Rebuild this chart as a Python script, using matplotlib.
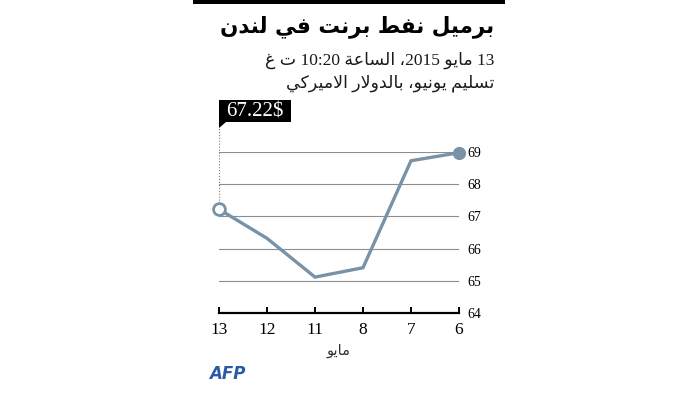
import re
import matplotlib
matplotlib.use('Agg')
import matplotlib.pyplot as plt
from matplotlib.patches import Rectangle, Polygon

# Data
days = ['13', '12', '11', '8', '7', '6']
prices = [67.22, 66.32, 65.12, 65.41, 68.72, 68.97]
y_ticks = [64, 65, 66, 67, 68, 69]

title = 'برميل نفط برنت في لندن'
subtitle1 = '13 مايو 2015، الساعة 10:20 ت غ'
subtitle2 = 'تسليم يونيو، بالدولار الاميركي'
month = 'مايو'

W, H = 700, 393
line_color = '#7893a8'

# Minimal Arabic shaping (matplotlib has no complex text layout)
# isolated, final, initial, medial
FORMS = {
    'ا': (0xFE8D, 0xFE8E, None, None),
    'ب': (0xFE8F, 0xFE90, 0xFE91, 0xFE92),
    'ة': (0xFE93, 0xFE94, None, None),
    'ت': (0xFE95, 0xFE96, 0xFE97, 0xFE98),
    'د': (0xFEA9, 0xFEAA, None, None),
    'ر': (0xFEAD, 0xFEAE, None, None),
    'س': (0xFEB1, 0xFEB2, 0xFEB3, 0xFEB4),
    'ط': (0xFEC1, 0xFEC2, 0xFEC3, 0xFEC4),
    'ع': (0xFEC9, 0xFECA, 0xFECB, 0xFECC),
    'غ': (0xFECD, 0xFECE, 0xFECF, 0xFED0),
    'ف': (0xFED1, 0xFED2, 0xFED3, 0xFED4),
    'ك': (0xFED9, 0xFEDA, 0xFEDB, 0xFEDC),
    'ل': (0xFEDD, 0xFEDE, 0xFEDF, 0xFEE0),
    'م': (0xFEE1, 0xFEE2, 0xFEE3, 0xFEE4),
    'ن': (0xFEE5, 0xFEE6, 0xFEE7, 0xFEE8),
    'و': (0xFEED, 0xFEEE, None, None),
    'ي': (0xFEF1, 0xFEF2, 0xFEF3, 0xFEF4),
    'LA': (0xFEFB, 0xFEFC, None, None),
}


def shape_word(word):
    letters = []
    i = 0
    while i < len(word):
        if word[i] == 'ل' and word[i + 1:i + 2] == 'ا':
            letters.append('LA')
            i += 2
        else:
            letters.append(word[i])
            i += 1
    out = []
    for k, c in enumerate(letters):
        f = FORMS.get(c)
        if f is None:
            out.append(c)
            continue
        prev = FORMS.get(letters[k - 1]) if k > 0 else None
        nxt = FORMS.get(letters[k + 1]) if k + 1 < len(letters) else None
        jp = prev is not None and prev[2] is not None
        jn = nxt is not None and f[2] is not None
        if jp and jn:
            g = f[3]
        elif jp:
            g = f[1]
        elif jn:
            g = f[2]
        else:
            g = f[0]
        out.append(chr(g))
    return ''.join(out)


def rtl(text):
    tokens = re.findall(r'[0-9.:]+|[^0-9.:]+', text)
    res = []
    for tok in reversed(tokens):
        if re.fullmatch(r'[0-9.:]+', tok):
            res.append(tok)
        else:
            shaped = re.sub(r'[\u0600-\u06FF]+', lambda m: shape_word(m.group()), tok)
            res.append(shaped[::-1])
    return ''.join(res)


def fx(x):
    return x / W


def fy(y):
    return 1 - y / H


fig = plt.figure(figsize=(7, 3.93), dpi=100)

# top black bar
fig.add_artist(Rectangle((fx(193), fy(4)), fx(312), 4 / H, transform=fig.transFigure,
                         color='black', lw=0))

mixed = ['Liberation Serif', 'DejaVu Sans']
fig.text(fx(494), fy(27), rtl(title), ha='right', va='center', fontsize=15.5,
         fontweight='bold', family=['DejaVu Sans'])
fig.text(fx(494), fy(60), rtl(subtitle1), ha='right', va='center', fontsize=12.5,
         family=mixed, color='#1a1a1a')
fig.text(fx(494), fy(83), rtl(subtitle2), ha='right', va='center', fontsize=12.5,
         family=mixed, color='#1a1a1a')

ax = fig.add_axes([fx(219), fy(313.3), fx(240), (313.3 - 151.7) / H])
x = list(range(len(days)))
ax.plot(x, prices, color=line_color, lw=2.4, solid_joinstyle='miter', clip_on=False, zorder=3)
ax.plot(x[0], prices[0], 'o', ms=8.5, mfc='white', mec=line_color, mew=2, clip_on=False, zorder=4)
ax.plot(x[-1], prices[-1], 'o', ms=8.5, color=line_color, clip_on=False, zorder=4)

ax.set_xlim(0, len(days) - 1)
ax.set_ylim(y_ticks[0], y_ticks[-1])
ax.set_xticks(x)
ax.set_xticklabels(days, family='Liberation Serif', fontsize=12.5)
ax.set_yticks(y_ticks)
ax.yaxis.tick_right()
ax.set_yticklabels([str(v) for v in y_ticks], family='Liberation Serif', fontsize=10)
ax.tick_params(axis='y', length=0, pad=6)
ax.tick_params(axis='x', direction='in', length=4.5, width=1.4, pad=6, color='black')
ax.grid(axis='y', color='#8e8e8e', lw=0.8)
ax.set_axisbelow(True)
for s in ['top', 'left', 'right']:
    ax.spines[s].set_visible(False)
ax.spines['bottom'].set_linewidth(1.6)
ax.spines['bottom'].set_color('black')

# dotted leader from the callout to the first point
ax.plot([x[0], x[0]], [prices[0], 69.92], ls=':', color='#777777', lw=0.8, clip_on=False, zorder=2)

# callout box
fig.add_artist(Rectangle((fx(219), fy(122)), fx(72), 22 / H, transform=fig.transFigure,
                         color='black', lw=0))
fig.add_artist(Polygon([(fx(219), fy(122)), (fx(226), fy(122)), (fx(219), fy(128))],
                       closed=True, transform=fig.transFigure, color='black', lw=0))
fig.text(fx(255), fy(111.5), f'{prices[0]:.2f}$', ha='center', va='center', color='white',
         fontsize=15, family='Liberation Serif')

fig.text(fx(339), fy(350), rtl(month), ha='center', va='center', fontsize=10.5,
         family=['DejaVu Sans'], color='#333333')

fig.text(fx(209), fy(374), 'AFP', ha='left', va='center', fontsize=12, fontweight='bold',
         style='italic', color='#2b5aa8', family='DejaVu Sans')

fig.savefig('out.png', dpi=100)
